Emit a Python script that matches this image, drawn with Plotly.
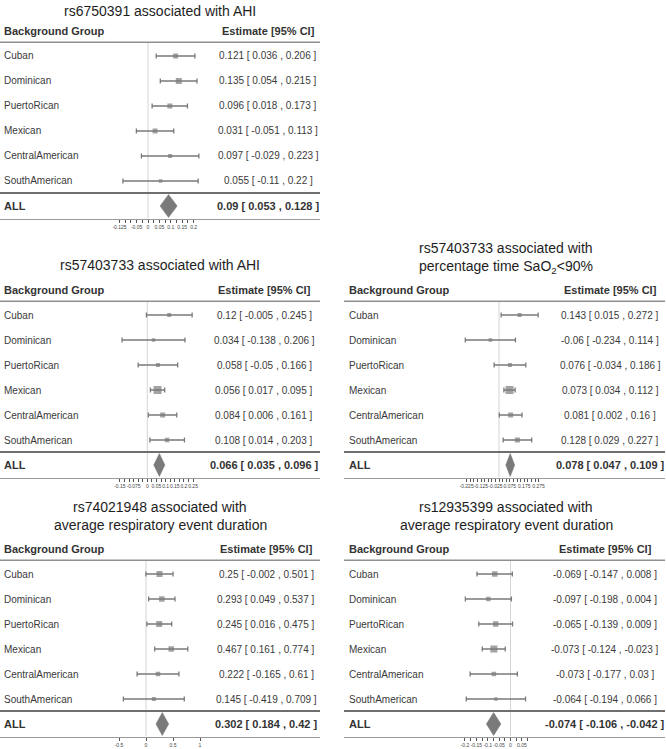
import plotly.graph_objects as go

# ---------------- data ----------------
groups = ["Cuban", "Dominican", "PuertoRican", "Mexican", "CentralAmerican", "SouthAmerican"]

a_title = ["rs6750391 associated with AHI"]
a_est = [0.121, 0.135, 0.096, 0.031, 0.097, 0.055]
a_lo = [0.036, 0.054, 0.018, -0.051, -0.029, -0.11]
a_hi = [0.206, 0.215, 0.173, 0.113, 0.223, 0.22]
a_all = [0.09, 0.053, 0.128]
a_ticks = [-0.125, -0.1, -0.075, -0.05, -0.025, 0, 0.025, 0.05, 0.075, 0.1, 0.125, 0.15, 0.175, 0.2]
a_labelled = [-0.125, -0.05, 0, 0.05, 0.1, 0.15, 0.2]
a_ticklabels = ["-0.125", "-0.05", "0", "0.05", "0.1", "0.15", "0.2"]

b_title = ["rs57403733 associated with AHI"]
b_est = [0.12, 0.034, 0.058, 0.056, 0.084, 0.108]
b_lo = [-0.005, -0.138, -0.05, 0.017, 0.006, 0.014]
b_hi = [0.245, 0.206, 0.166, 0.095, 0.161, 0.203]
b_all = [0.066, 0.035, 0.096]
b_ticks = [-0.15, -0.125, -0.1, -0.075, -0.05, -0.025, 0, 0.025, 0.05, 0.075, 0.1, 0.125,
           0.15, 0.175, 0.2, 0.225, 0.25]
b_labelled = [-0.15, -0.075, 0, 0.05, 0.1, 0.15, 0.2, 0.25]
b_ticklabels = ["-0.15", "-0.075", "0", "0.05", "0.1", "0.15", "0.2", "0.25"]

c_title = ["rs57403733 associated with", "percentage time SaO<sub>2</sub>&lt;90%"]
c_est = [0.143, -0.06, 0.076, 0.073, 0.081, 0.128]
c_lo = [0.015, -0.234, -0.034, 0.034, 0.002, 0.029]
c_hi = [0.272, 0.114, 0.186, 0.112, 0.16, 0.227]
c_all = [0.078, 0.047, 0.109]
c_ticks = [-0.225, -0.2, -0.175, -0.15, -0.125, -0.1, -0.075, -0.05, -0.025, 0, 0.025, 0.05,
           0.075, 0.1, 0.125, 0.15, 0.175, 0.2, 0.225, 0.25, 0.275]
c_labelled = [-0.225, -0.125, -0.025, 0.075, 0.175, 0.275]
c_ticklabels = ["-0.225", "-0.125", "-0.025", "0.075", "0.175", "0.275"]

d_title = ["rs74021948 associated with", "average respiratory event duration"]
d_est = [0.25, 0.293, 0.245, 0.467, 0.222, 0.145]
d_lo = [-0.002, 0.049, 0.016, 0.161, -0.165, -0.419]
d_hi = [0.501, 0.537, 0.475, 0.774, 0.61, 0.709]
d_all = [0.302, 0.184, 0.42]
d_ticks = [-0.5, 0, 0.5, 1]
d_labelled = [-0.5, 0, 0.5, 1]
d_ticklabels = ["-0.5", "0", "0.5", "1"]

e_title = ["rs12935399 associated with", "average respiratory event duration"]
e_est = [-0.069, -0.097, -0.065, -0.073, -0.073, -0.064]
e_lo = [-0.147, -0.198, -0.139, -0.124, -0.177, -0.194]
e_hi = [0.008, 0.004, 0.009, -0.023, 0.03, 0.066]
e_all = [-0.074, -0.106, -0.042]
e_ticks = [-0.2, -0.175, -0.15, -0.125, -0.1, -0.075, -0.05, -0.025, 0, 0.025, 0.05, 0.075]
e_labelled = [-0.2, -0.15, -0.1, -0.05, 0, 0.05]
e_ticklabels = ["-0.2", "-0.15", "-0.1", "-0.05", "0", "0.05"]

# ---------------- styling / layout (pixels) ----------------
W, H = 666, 749
FONT = "Liberation Sans, Arial, sans-serif"
TXT = "#333333"
MARK = "#7a7a7a"
PITCH = 25

panels = [
    dict(title=a_title, est=a_est, lo=a_lo, hi=a_hi, all=a_all, ticks=a_ticks,
         tv=a_labelled, tl=a_ticklabels,
         sizes=[5, 6, 5, 5, 4, 3.5], L=0, R=320, zero=148, scale=228, head=31,
         ty=[11], tx=160, textx=2, estx=268),
    dict(title=b_title, est=b_est, lo=b_lo, hi=b_hi, all=b_all, ticks=b_ticks,
         tv=b_labelled, tl=b_ticklabels,
         sizes=[4, 3.5, 4, 8, 5, 4.5], L=0, R=320, zero=147.3, scale=183, head=290,
         ty=[265], tx=160, textx=2, estx=264),
    dict(title=c_title, est=c_est, lo=c_lo, hi=c_hi, all=c_all, ticks=c_ticks,
         tv=c_labelled, tl=c_ticklabels,
         sizes=[4, 3.5, 4, 8, 5, 5], L=344, R=665, zero=499, scale=144, head=290,
         ty=[248, 267], tx=506, textx=347, estx=610),
    dict(title=d_title, est=d_est, lo=d_lo, hi=d_hi, all=d_all, ticks=d_ticks,
         tv=d_labelled, tl=d_ticklabels,
         sizes=[6, 5.5, 6, 5.5, 4.5, 4], L=0, R=320, zero=146, scale=54, head=549,
         ty=[507, 525], tx=160, textx=2, estx=266),
    dict(title=e_title, est=e_est, lo=e_lo, hi=e_hi, all=e_all, ticks=e_ticks,
         tv=e_labelled, tl=e_ticklabels,
         sizes=[5.5, 4.5, 5.5, 7, 4.5, 3.5], L=344, R=665, zero=510.5, scale=228, head=549,
         ty=[507, 525], tx=506, textx=347, estx=605),
]


def fmt(v):
    return f"{v:g}"


fig = go.Figure()
layout = dict(width=W, height=H, autosize=False, margin=dict(l=0, r=0, t=0, b=0, pad=0),
              paper_bgcolor="white", plot_bgcolor="rgba(0,0,0,0)", showlegend=False,
              font=dict(family=FONT, color=TXT))
annotations = []
shapes = []

for i, p in enumerate(panels, start=1):
    xs = "x" if i == 1 else f"x{i}"
    ys = "y" if i == 1 else f"y{i}"
    xk = "xaxis" if i == 1 else f"xaxis{i}"
    yk = "yaxis" if i == 1 else f"yaxis{i}"
    ytop = p["head"] - PITCH / 2
    ybot = p["head"] + 7 * PITCH + PITCH / 2
    layout[xk] = dict(domain=[p["L"] / W, p["R"] / W],
                      range=[(p["L"] - p["zero"]) / p["scale"], (p["R"] - p["zero"]) / p["scale"]],
                      anchor=ys, showgrid=False, zeroline=False, showline=True,
                      linecolor="#9a9a9a", linewidth=1, ticks="outside", ticklen=3,
                      tickcolor="#555555", tickwidth=1, tickvals=p["tv"], ticktext=p["tl"],
                      tickangle=0, ticklabelstandoff=0,
                      minor=dict(tickvals=p["ticks"], ticks="outside", ticklen=3,
                                 tickcolor="#555555", tickwidth=1, showgrid=False),
                      tickfont=dict(size=5, color="#444444"), fixedrange=True)
    layout[yk] = dict(domain=[1 - ybot / H, 1 - ytop / H], range=[7.5, -0.5], anchor=xs,
                      visible=False, fixedrange=True)

    rows = list(range(1, 7))
    # group estimates with CI
    fig.add_trace(go.Scatter(
        x=p["est"], y=rows, xaxis=xs, yaxis=ys, mode="markers",
        marker=dict(symbol="square", size=p["sizes"], color=MARK, line=dict(width=0)),
        error_x=dict(type="data", symmetric=False,
                     array=[h - e for h, e in zip(p["hi"], p["est"])],
                     arrayminus=[e - l for e, l in zip(p["est"], p["lo"])],
                     color=MARK, thickness=1.3, width=2.5),
        hoverinfo="skip"))
    # pooled diamond
    est, lo, hi = p["all"]
    fig.add_trace(go.Scatter(
        x=[lo, est, hi, est, lo], y=[7, 7 - 0.46, 7, 7 + 0.46, 7], xaxis=xs, yaxis=ys,
        mode="lines", fill="toself", fillcolor=MARK, line=dict(color=MARK, width=0.5),
        hoverinfo="skip"))

    # lines
    shapes.append(dict(type="line", xref=xs, yref=ys, x0=0, x1=0, y0=0.45, y1=7.5,
                       line=dict(color="#d4d4d4", width=1), layer="below"))
    shapes.append(dict(type="line", xref=f"{xs} domain", yref=ys, x0=0, x1=1, y0=0.45, y1=0.45,
                       line=dict(color="#8f8f8f", width=1.5)))
    shapes.append(dict(type="line", xref=f"{xs} domain", yref=ys, x0=0, x1=1, y0=6.48, y1=6.48,
                       line=dict(color="#6e6e6e", width=2)))

    # titles
    for t, ty in zip(p["title"], p["ty"]):
        annotations.append(dict(text=t, xref="paper", yref="paper", x=p["tx"] / W, y=1 - ty / H,
                                xanchor="center", yanchor="middle", showarrow=False,
                                font=dict(size=14, color="#1e1e1e")))
    # headers
    annotations.append(dict(text="<b>Background Group</b>", xref="paper", yref=ys,
                            x=p["textx"] / W, y=0, xanchor="left", yanchor="middle",
                            showarrow=False, font=dict(size=11, color=TXT)))
    annotations.append(dict(text="<b>Estimate [95% CI]</b>", xref="paper", yref=ys,
                            x=p["estx"] / W, y=0, xanchor="center", yanchor="middle",
                            showarrow=False, font=dict(size=11, color=TXT)))
    for r, g, e, l, h in zip(rows, groups, p["est"], p["lo"], p["hi"]):
        annotations.append(dict(text=g, xref="paper", yref=ys, x=p["textx"] / W, y=r,
                                xanchor="left", yanchor="middle", showarrow=False,
                                font=dict(size=10, color="#3a3a3a")))
        annotations.append(dict(text=f"{fmt(e)} [ {fmt(l)} , {fmt(h)} ]", xref="paper", yref=ys,
                                x=p["estx"] / W, y=r, xanchor="center", yanchor="middle",
                                showarrow=False, font=dict(size=10, color="#3a3a3a")))
    annotations.append(dict(text="<b>ALL</b>", xref="paper", yref=ys, x=p["textx"] / W, y=7,
                            xanchor="left", yanchor="middle", showarrow=False,
                            font=dict(size=11, color=TXT)))
    annotations.append(dict(text=f"<b>{fmt(est)} [ {fmt(lo)} , {fmt(hi)} ]</b>", xref="paper",
                            yref=ys, x=p["estx"] / W, y=7, xanchor="center", yanchor="middle",
                            showarrow=False, font=dict(size=11, color=TXT)))

layout["annotations"] = annotations
layout["shapes"] = shapes
fig.update_layout(**layout)
fig.write_html("out.html", config={"displayModeBar": False},
               post_script="document.body.style.margin='0';document.body.style.overflow='hidden';")
